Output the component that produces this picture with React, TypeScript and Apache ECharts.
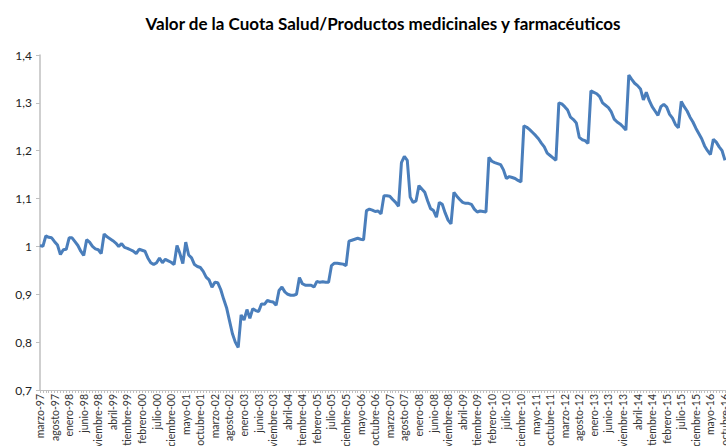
import React, { useEffect, useRef } from "react";
import * as echarts from "echarts";

const monthNames = ["enero", "febrero", "marzo", "abril", "mayo", "junio", "julio", "agosto", "septiembre", "octubre", "noviembre", "diciembre"];

// Monthly categories from marzo-97 to octubre-16
const categories: string[] = [];
for (let y = 1997, m = 2; y < 2016 || (y === 2016 && m <= 9); ) {
  categories.push(`${monthNames[m]}-${String(y % 100).padStart(2, "0")}`);
  m++;
  if (m === 12) { m = 0; y++; }
}

const values1997to2001: number[] = [
  1.002, 1.000, 1.022, 1.019, 1.018, 1.010, 1.003, 0.983, 0.993, 0.994,
  1.018, 1.018, 1.010, 1.002, 0.990, 0.981, 1.014, 1.009, 1.000, 0.995,
  0.993, 0.985, 1.026, 1.020, 1.016, 1.012, 1.007, 1.000, 1.006, 0.998,
  0.996, 0.993, 0.990, 0.985, 0.994, 0.992, 0.990, 0.976, 0.966, 0.962,
  0.966, 0.976, 0.966, 0.973, 0.970, 0.967, 0.962, 1.002, 0.985, 0.964,
  1.009, 0.982, 0.976, 0.962, 0.958, 0.956, 0.948, 0.936, 0.930,
];
const values2002to2005: number[] = [
  0.915, 0.925, 0.924, 0.910, 0.890, 0.872, 0.845, 0.818, 0.800, 0.789,
  0.857, 0.846, 0.868, 0.850, 0.870, 0.866, 0.864, 0.880, 0.879, 0.887,
  0.885, 0.884, 0.877, 0.908, 0.915, 0.905, 0.900, 0.898, 0.898, 0.900,
  0.935, 0.922, 0.919, 0.919, 0.919, 0.915, 0.927, 0.925,
];
const values2005to2009: number[] = [
  0.926, 0.925, 0.925, 0.960, 0.965, 0.965, 0.964, 0.963, 0.960, 1.011,
  1.013, 1.015, 1.017, 1.015, 1.014, 1.075, 1.078, 1.076, 1.073, 1.074,
  1.068, 1.106, 1.106, 1.105, 1.098, 1.092, 1.084, 1.175, 1.188, 1.180,
  1.103, 1.092, 1.095, 1.127, 1.120, 1.113, 1.095, 1.079, 1.075, 1.061,
];
const values2009to2013: number[] = [
  1.092, 1.088, 1.070, 1.055, 1.047, 1.113, 1.105, 1.098, 1.092, 1.090,
  1.090, 1.088, 1.078, 1.072, 1.074, 1.073, 1.072, 1.186, 1.178, 1.175,
  1.173, 1.171, 1.160, 1.142, 1.146, 1.144, 1.142, 1.138, 1.135, 1.252,
  1.249, 1.244, 1.238, 1.232, 1.225, 1.216, 1.208, 1.195, 1.190, 1.185,
  1.180, 1.300, 1.298, 1.292, 1.285, 1.270, 1.265, 1.258, 1.228, 1.223,
  1.221, 1.215,
];
const values2013to2016: number[] = [
  1.325, 1.322, 1.319, 1.313, 1.300, 1.295, 1.290, 1.281, 1.266, 1.260,
  1.256, 1.250, 1.243, 1.358, 1.349, 1.341, 1.336, 1.329, 1.306, 1.322,
  1.305, 1.292, 1.283, 1.274, 1.292, 1.297, 1.291, 1.276, 1.268, 1.255,
  1.248, 1.303, 1.292, 1.283, 1.270, 1.260, 1.247, 1.236, 1.225, 1.210,
  1.200, 1.192, 1.224, 1.218, 1.208, 1.200, 1.180,
];

const seriesValues = [
  ...values1997to2001,
  ...values2002to2005,
  ...values2005to2009,
  ...values2009to2013,
  ...values2013to2016,
];

const yTicks = [0.7, 0.8, 0.9, 1.0, 1.1, 1.2, 1.3, 1.4];
const title = "Valor de la Cuota Salud/Productos medicinales y farmacéuticos";

export default function App() {
  const ref = useRef<HTMLDivElement>(null);
  useEffect(() => {
    if (!ref.current) return;
    const chart = echarts.init(ref.current, null, { renderer: "svg" });
    chart.setOption({
      animation: false,
      backgroundColor: "#ffffff",
      title: {
        text: title,
        left: 378,
        textAlign: "center",
        top: 10,
        textStyle: { fontFamily: "Lato", fontWeight: "bold", fontSize: 17, color: "#000000" },
      },
      grid: { left: 40, right: 1, top: 55, bottom: 56, containLabel: false, outerBoundsMode: "none" },
      xAxis: {
        type: "category",
        data: categories,
        boundaryGap: false,
        axisLine: { lineStyle: { color: "#bfbfbf", width: 1 } },
        axisTick: { interval: 0, length: 3, lineStyle: { color: "#bfbfbf" } },
        axisLabel: {
          interval: 4,
          rotate: 90,
          fontSize: 10.5,
          fontFamily: "Lato",
          color: "#333333",
          margin: 4,
        },
      },
      yAxis: {
        type: "value",
        min: yTicks[0],
        max: yTicks[yTicks.length - 1],
        interval: 0.1,
        axisLine: { show: true, lineStyle: { color: "#bfbfbf", width: 1.5 } },
        axisTick: { show: true, length: 4, lineStyle: { color: "#bfbfbf" } },
        splitLine: { show: false },
        axisLabel: {
          fontSize: 12,
          fontFamily: "Lato",
          color: "#222222",
          margin: 8,
          formatter: (v: number) => String(Math.round(v * 10) / 10).replace(".", ","),
        },
      },
      series: [
        {
          type: "line",
          data: seriesValues,
          showSymbol: false,
          lineStyle: { color: "#4a7ebb", width: 3 },
          itemStyle: { color: "#4a7ebb" },
        },
      ],
    });
    return () => chart.dispose();
  }, []);
  return (
    <div
      ref={ref}
      style={{ position: "fixed", left: 0, top: 0, width: 726, height: 446, background: "#fff" }}
    />
  );
}
